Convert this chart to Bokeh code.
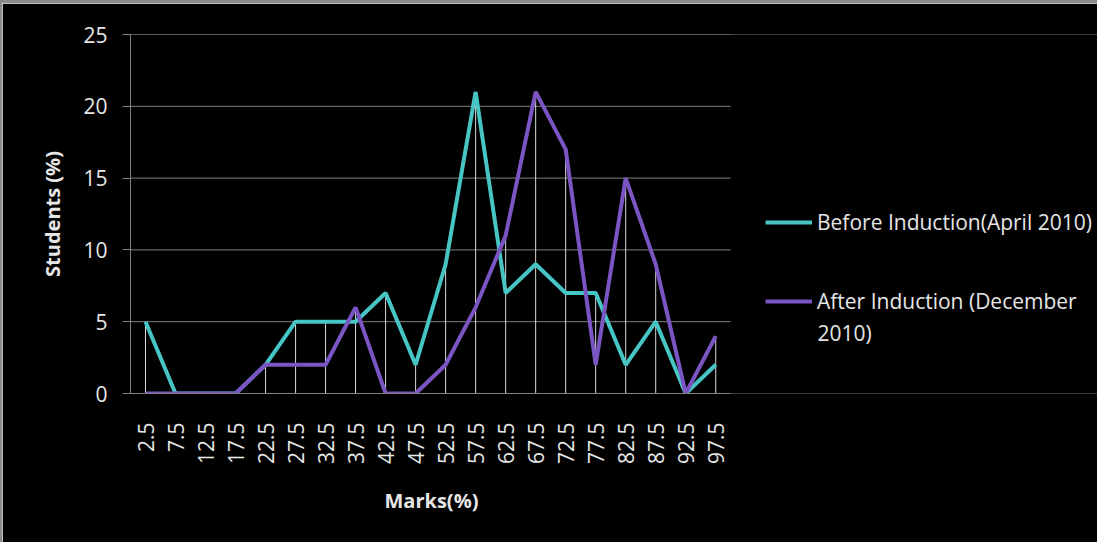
import numpy as np
from bokeh.plotting import figure
from bokeh.models import (ColumnDataSource, Range1d, Legend, LegendItem, FixedTicker, Label, Title)
from bokeh.embed import file_html
from bokeh.resources import INLINE

marks = ["2.5", "7.5", "12.5", "17.5", "22.5", "27.5", "32.5", "37.5", "42.5", "47.5",
         "52.5", "57.5", "62.5", "67.5", "72.5", "77.5", "82.5", "87.5", "92.5", "97.5"]
before = [5, 0, 0, 0, 2, 5, 5, 5, 7, 2, 9, 21, 7, 9, 7, 7, 2, 5, 0, 2]
after = [0, 0, 0, 0, 2, 2, 2, 6, 0, 0, 2, 6, 11, 21, 17, 2, 15, 9, 0, 4]
y_ticks = [0, 5, 10, 15, 20, 25]

FONT = "Open Sans"
TXT = "#e6e6e6"
TEAL = "#47c5c5"
PURPLE = "#7b55c3"
GRID = "#808080"

W, H = 1097, 542
LEFT, TOP, BOTTOM = 128, 31, 152
PLOT_W = 599  # width of the category area in px
frame_w = W - LEFT - 2
n = len(marks)
xs = list(range(n))
x_end = -0.5 + n * frame_w / PLOT_W

p = figure(width=W, height=H, x_range=Range1d(-0.5, x_end), y_range=Range1d(0, 25),
           output_backend="svg", toolbar_location=None,
           min_border_left=LEFT, min_border_right=0, min_border_top=TOP,
           min_border_bottom=BOTTOM)
p.background_fill_color = "black"
p.border_fill_color = "black"
p.outline_line_color = None
p.styles = {"border-top": "3px solid #8a8a8a", "border-left": "2px solid #8a8a8a"}

p.xgrid.grid_line_color = None
p.ygrid.grid_line_color = None

# horizontal gridlines limited to the category area
gy = y_ticks[1:]
p.segment(x0=[-0.5] * len(gy), y0=gy, x1=[n - 0.5] * len(gy), y1=gy,
          line_color=GRID, line_width=1)

# drop lines
top = [max(a, b) for a, b in zip(before, after)]
src = ColumnDataSource(dict(x=xs, y0=[0] * n, y1=top, b=before, a=after))
p.segment(x0="x", y0="y0", x1="x", y1="y1", source=src, line_color="#d9d9d9", line_width=1)

r1 = p.line("x", "b", source=src, line_color=TEAL, line_width=4)
r2 = p.line("x", "a", source=src, line_color=PURPLE, line_width=4)

# y axis
p.yaxis.ticker = FixedTicker(ticks=y_ticks)
p.yaxis.minor_tick_line_color = None
p.yaxis.major_tick_line_color = GRID
p.yaxis.major_tick_out = 8
p.yaxis.major_tick_in = 0
p.yaxis.axis_line_color = GRID
p.yaxis.major_label_text_font = FONT
p.yaxis.major_label_text_font_size = "21px"
p.yaxis.major_label_text_color = TXT
p.yaxis.major_label_standoff = 15
p.yaxis.axis_label = "Students (%)"
p.yaxis.axis_label_text_font = FONT
p.yaxis.axis_label_text_font_size = "20px"
p.yaxis.axis_label_text_font_style = "bold"
p.yaxis.axis_label_text_color = TXT
p.yaxis.axis_label_standoff = 14

# x axis (categories)
p.xaxis.bounds = (-0.5, n - 0.5)
p.xaxis.ticker = FixedTicker(ticks=xs)
p.xaxis.major_label_overrides = {i: m for i, m in enumerate(marks)}
p.xaxis.axis_line_color = GRID
p.xaxis.major_tick_line_color = None
p.xaxis.minor_tick_line_color = None
p.xaxis.major_label_orientation = np.pi / 2
p.xaxis.major_label_text_font = FONT
p.xaxis.major_label_text_font_size = "21px"
p.xaxis.major_label_text_color = TXT
p.xaxis.major_label_standoff = 23

# x axis title, centred under the category area
p.add_layout(Title(text="Marks(%)", align="left", offset=254, standoff=34,
                   text_font=FONT, text_font_size="20px", text_font_style="bold",
                   text_color=TXT), "below")

legend = Legend(items=[LegendItem(label="Before Induction(April 2010)", renderers=[r1]),
                       LegendItem(label="After Induction (December", renderers=[r2])],
                location=(635, 78))
legend.background_fill_alpha = 0
legend.border_line_color = None
legend.label_text_font = FONT
legend.label_text_font_size = "21px"
legend.label_text_color = TXT
legend.glyph_width = 47
legend.spacing = 51
legend.padding = 0
legend.margin = 0
legend.label_standoff = 5
p.add_layout(legend, "center")
p.add_layout(Label(x=687, y=61, x_units="screen", y_units="screen", text="2010)",
                   text_font=FONT, text_font_size="21px", text_color=TXT,
                   text_baseline="middle"))

open("out.html", "w").write(file_html(p, INLINE))
